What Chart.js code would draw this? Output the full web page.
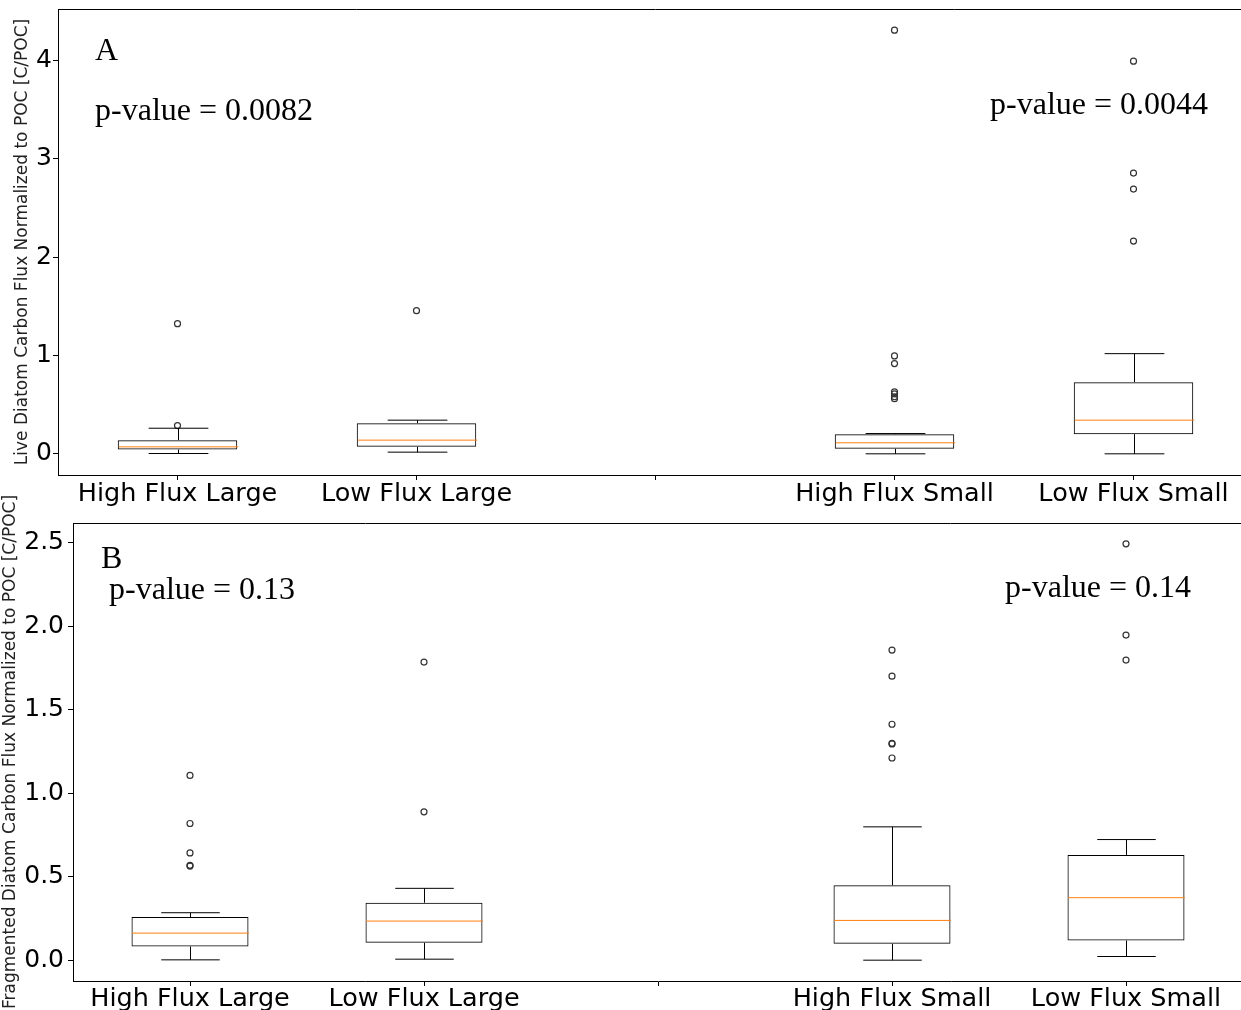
<!DOCTYPE html>
<html>
<head>
<meta charset="utf-8">
<script src="https://cdn.jsdelivr.net/npm/chart.js@4.4.1/dist/chart.umd.min.js"></script>
<style>
  html, body { margin: 0; padding: 0; background: #fff; overflow: hidden; }
  body { width: 1241px; height: 1010px; position: relative; }
  .panel { position: absolute; left: 0; }
  #panelA { top: 0; }
  #panelB { top: 480px; }
</style>
</head>
<body>
<canvas id="panelA" class="panel" width="1260" height="510"></canvas>
<canvas id="panelB" class="panel" width="1260" height="530"></canvas>
<script>
// categories (position 3 is an empty slot between the large and small groups)
let categories = ["High Flux Large", "Low Flux Large", "", "High Flux Small", "Low Flux Small"];

// A - live diatom carbon flux
let liveLowerWhisker = [0.003, 0.017, null, 0.0, 0.0];
let liveQ1 = [0.044, 0.071, null, 0.051, 0.2];
let liveMedian = [0.071, 0.139, null, 0.112, 0.342];
let liveQ3 = [0.139, 0.311, null, 0.2, 0.728];
let liveUpperWhisker = [0.26, 0.342, null, 0.206, 1.018];
let liveOutliers = [
  [1.323, 0.287],
  [1.455],
  [],
  [4.305, 0.995, 0.917, 0.63, 0.61, 0.58, 0.56],
  [3.99, 2.853, 2.69, 2.162],
];
let liveTicks = [0, 1, 2, 3, 4];

// B - fragmented diatom carbon flux
let fragLowerWhisker = [0.004, 0.008, null, 0.002, 0.024];
let fragQ1 = [0.084, 0.106, null, 0.1, 0.12];
let fragMedian = [0.164, 0.236, null, 0.24, 0.376];
let fragQ3 = [0.26, 0.346, null, 0.45, 0.632];
let fragUpperWhisker = [0.286, 0.432, null, 0.8, 0.724];
let fragOutliers = [
  [1.108, 0.82, 0.644, 0.57, 0.565],
  [1.786, 0.89],
  [],
  [1.858, 1.702, 1.414, 1.3, 1.296, 1.212],
  [2.494, 1.948, 1.798],
];
let fragTicks = [0, 0.5, 1.0, 1.5, 2.0, 2.5];

// whiskers, caps and medians drawn on top of the floating bars
let boxPlugin = {
  id: "boxWhiskers",
  afterDatasetsDraw(chart, args, opts) {
    let ctx = chart.ctx;
    let x = chart.scales.x;
    let y = chart.scales.y;
    let band = x.getPixelForValue(1) - x.getPixelForValue(0);
    ctx.save();
    ctx.lineWidth = 1;
    opts.median.forEach((m, i) => {
      if (m === null) return;
      let cx = Math.round(x.getPixelForValue(i)) + 0.5;
      let cap = band * 0.125;
      let half = band * 0.25;
      let lw = y.getPixelForValue(opts.lower[i]);
      let q1 = y.getPixelForValue(opts.q1[i]);
      let q3 = y.getPixelForValue(opts.q3[i]);
      let uw = y.getPixelForValue(opts.upper[i]);
      ctx.strokeStyle = "#000";
      ctx.beginPath();
      ctx.moveTo(cx, q1); ctx.lineTo(cx, lw);
      ctx.moveTo(cx, q3); ctx.lineTo(cx, uw);
      ctx.moveTo(cx - cap, lw); ctx.lineTo(cx + cap, lw);
      ctx.moveTo(cx - cap, uw); ctx.lineTo(cx + cap, uw);
      ctx.stroke();
      let my = y.getPixelForValue(m);
      ctx.strokeStyle = "#ff7f0e";
      ctx.beginPath();
      ctx.moveTo(cx - half, my); ctx.lineTo(cx + half, my);
      ctx.stroke();
    });
    ctx.restore();
  },
};

// top / right spines and text labels inside the axes
let framePlugin = {
  id: "frame",
  afterDraw(chart, args, opts) {
    let ctx = chart.ctx;
    let a = chart.chartArea;
    ctx.save();
    ctx.strokeStyle = "#000";
    ctx.lineWidth = 1;
    ctx.beginPath();
    ctx.moveTo(a.left, Math.round(a.top) + 0.5);
    ctx.lineTo(a.right, Math.round(a.top) + 0.5);
    ctx.moveTo(Math.round(a.right) + 0.5, a.top);
    ctx.lineTo(Math.round(a.right) + 0.5, a.bottom);
    ctx.stroke();
    ctx.fillStyle = "#000";
    ctx.font = "32px 'Liberation Serif', 'Times New Roman', serif";
    ctx.textBaseline = "middle";
    ctx.textAlign = "left";
    opts.labels.forEach((t) => {
      ctx.fillText(t.text, chart.scales.x.getPixelForValue(t.x), chart.scales.y.getPixelForValue(t.y));
    });
    ctx.restore();
  },
};

function paddedRange(lists) {
  let all = [].concat(...lists).filter((v) => v !== null);
  let lo = Math.min(...all);
  let hi = Math.max(...all);
  let pad = (hi - lo) * 0.05;
  return [lo - pad, hi + pad];
}

function makePanel(id, p) {
  let range = paddedRange([p.lower, p.upper].concat(p.outliers));
  let outlierPoints = [];
  p.outliers.forEach((list, i) => list.forEach((v) => outlierPoints.push({ x: categories[i], y: v })));

  return new Chart(document.getElementById(id), {
    type: "bar",
    data: {
      labels: categories,
      datasets: [
        {
          label: "box",
          data: categories.map((c, i) => (p.q1[i] === null ? null : [p.q1[i], p.q3[i]])),
          backgroundColor: "rgba(255,255,255,0)",
          borderColor: "#000",
          borderWidth: 1,
          borderSkipped: false,
          categoryPercentage: 1,
          barPercentage: 0.5,
        },
        {
          type: "scatter",
          label: "outliers",
          data: outlierPoints,
          pointStyle: "circle",
          pointRadius: 3,
          pointBorderWidth: 1.2,
          pointBorderColor: "#333",
          pointBackgroundColor: "rgba(255,255,255,0)",
        },
      ],
    },
    options: {
      responsive: false,
      animation: false,
      layout: { padding: p.padding },
      plugins: {
        legend: { display: false },
        tooltip: { enabled: false },
        boxWhiskers: { lower: p.lower, q1: p.q1, median: p.median, q3: p.q3, upper: p.upper },
        frame: { labels: p.labels },
      },
      scales: {
        x: {
          type: "category",
          offset: true,
          afterFit: (s) => { s.height = p.xHeight; },
          grid: { offset: false, drawOnChartArea: false, tickLength: 5, color: "#000" },
          border: { color: "#000", width: 1 },
          ticks: {
            autoSkip: false,
            maxRotation: 0,
            color: "#000",
            padding: p.xPad,
            font: { family: "DejaVu Sans", size: 25.5, lineHeight: 1 },
          },
        },
        y: {
          type: "linear",
          min: range[0],
          max: range[1],
          afterFit: (s) => { s.width = p.yWidth; },
          afterBuildTicks: (s) => { s.ticks = p.ticks.map((v) => ({ value: v })); },
          grid: { drawOnChartArea: false, tickLength: 5, color: "#000" },
          border: { color: "#000", width: 1 },
          ticks: {
            color: "#000",
            padding: p.yPad,
            font: { family: "DejaVu Sans", size: 25, lineHeight: 0.6 },
            callback: (v) => p.format(v),
          },
          title: {
            display: true,
            text: p.title,
            color: "#222",
            font: { family: "DejaVu Sans", size: 17 },
            padding: { top: p.titlePad, bottom: 0 },
          },
        },
      },
    },
    plugins: [boxPlugin, framePlugin],
  });
}

makePanel("panelA", {
  lower: liveLowerWhisker, q1: liveQ1, median: liveMedian, q3: liveQ3, upper: liveUpperWhisker,
  outliers: liveOutliers,
  ticks: liveTicks,
  format: (v) => String(v),
  title: "Live Diatom Carbon Flux Normalized to POC [C/POC]",
  titlePad: 12,
  padding: { left: 0, right: 7, top: 9, bottom: 0 },
  xHeight: 35,
  yWidth: 58,
  xPad: 2,
  yPad: 1,
  labels: [
    { text: "A", x: -0.345, y: 4.09 },
    { text: "p-value = 0.0082", x: -0.345, y: 3.48 },
    { text: "p-value = 0.0044", x: 3.40, y: 3.54 },
  ],
});

makePanel("panelB", {
  lower: fragLowerWhisker, q1: fragQ1, median: fragMedian, q3: fragQ3, upper: fragUpperWhisker,
  outliers: fragOutliers,
  ticks: fragTicks,
  format: (v) => v.toFixed(1),
  title: "Fragmented Diatom Carbon Flux Normalized to POC [C/POC]",
  titlePad: 0,
  padding: { left: 0, right: 17, top: 43, bottom: 0 },
  xHeight: 29,
  yWidth: 73,
  xPad: 1,
  yPad: 4,
  labels: [
    { text: "B", x: -0.380, y: 2.402 },
    { text: "p-value = 0.13", x: -0.346, y: 2.217 },
    { text: "p-value = 0.14", x: 3.483, y: 2.229 },
  ],
});
</script>
</body>
</html>
